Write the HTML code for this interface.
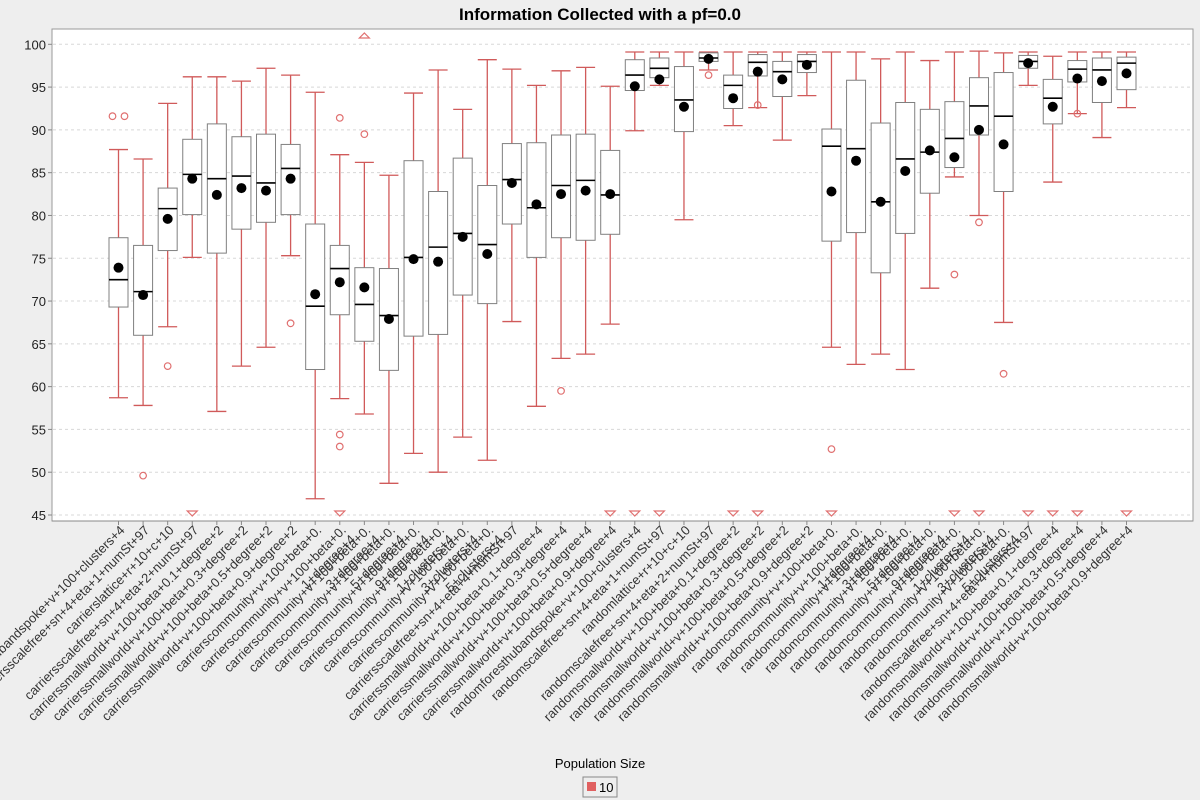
<!DOCTYPE html>
<html><head><meta charset="utf-8"><style>
html,body{margin:0;padding:0;background:#eeeeee;}
svg{display:block;font-family:"Liberation Sans",sans-serif;}
</style></head><body>
<svg id="chart" width="1200" height="800" viewBox="0 0 1200 800" xmlns="http://www.w3.org/2000/svg">
<rect x="0" y="0" width="1200" height="800" fill="#eeeeee"/>
<text x="600" y="20" text-anchor="middle" font-size="17" font-weight="bold" fill="#000">Information Collected with a pf=0.0</text>
<rect x="52" y="29" width="1141" height="492" fill="#ffffff" stroke="#999" stroke-width="1"/>
<g id="grid"></g>
<g id="yaxis"></g>
<g id="xaxis"></g>
<g id="marks"></g>
<text x="600" y="768" text-anchor="middle" font-size="13" fill="#000">Population Size</text>
<g>
<rect x="583" y="777" width="34" height="20" fill="#eeeeee" stroke="#888" stroke-width="1"/>
<rect x="587" y="782" width="9" height="9" fill="#e06060"/>
<text x="599" y="792" font-size="13" fill="#000">10</text>
</g>
</svg>
<script>
const categories = [
"carriershubandspoke+v+100+clusters+4","carriersscalefree+sn+4+eta+1+numSt+97","carrierslattice+r+10+c+10","carriersscalefree+sn+4+eta+2+numSt+97",
"carrierssmallworld+v+100+beta+0.1+degree+2","carrierssmallworld+v+100+beta+0.3+degree+2","carrierssmallworld+v+100+beta+0.5+degree+2","carrierssmallworld+v+100+beta+0.9+degree+2",
"carrierscommunity+v+100+beta+0.|1+degree+4","carrierscommunity+v+100+beta+0.|3+degree+4","carrierscommunity+v+100+beta+0.|5+degree+4","carrierscommunity+v+100+beta+0.|9+degree+4",
"carrierscommunity+v+100+beta+0.|1+clusters+4","carrierscommunity+v+100+beta+0.|3+clusters+4","carrierscommunity+v+100+beta+0.|5+clusters+4",
"carriersscalefree+sn+4+eta+4+numSt+97","carrierssmallworld+v+100+beta+0.1+degree+4","carrierssmallworld+v+100+beta+0.3+degree+4","carrierssmallworld+v+100+beta+0.5+degree+4","carrierssmallworld+v+100+beta+0.9+degree+4",
"randomforesthubandspoke+v+100+clusters+4",
"randomscalefree+sn+4+eta+1+numSt+97","randomlattice+r+10+c+10","randomscalefree+sn+4+eta+2+numSt+97",
"randomsmallworld+v+100+beta+0.1+degree+2","randomsmallworld+v+100+beta+0.3+degree+2","randomsmallworld+v+100+beta+0.5+degree+2","randomsmallworld+v+100+beta+0.9+degree+2",
"randomcommunity+v+100+beta+0.|1+degree+4","randomcommunity+v+100+beta+0.|3+degree+4","randomcommunity+v+100+beta+0.|5+degree+4","randomcommunity+v+100+beta+0.|9+degree+4",
"randomcommunity+v+100+beta+0.|1+clusters+4","randomcommunity+v+100+beta+0.|3+clusters+4","randomcommunity+v+100+beta+0.|5+clusters+4",
"randomscalefree+sn+4+eta+4+numSt+97","randomsmallworld+v+100+beta+0.1+degree+4","randomsmallworld+v+100+beta+0.3+degree+4","randomsmallworld+v+100+beta+0.5+degree+4","randomsmallworld+v+100+beta+0.9+degree+4"
];
// fix count to 42 (insert the carriers community-base label)
categories.splice(8,0,"carrierscommunity+v+100+beta+0.");
categories.splice(29,0,"randomcommunity+v+100+beta+0.");
const whiskerLow = [58.7,57.8,67.0,75.1,57.1,62.4,64.6,75.3,46.9,58.6,56.8,48.7,52.2,50.0,54.1,51.4,67.6,57.7,63.3,63.8,67.3,89.9,95.2,79.5,97.0,90.5,92.6,88.8,94.0,64.6,62.6,63.8,62.0,71.5,84.5,80.0,67.5,95.2,83.9,91.9,89.1,92.6];
const q1 = [69.3,66.0,75.9,80.1,75.6,78.4,79.2,80.1,62.0,68.4,65.3,61.9,65.9,66.1,70.7,69.7,79.0,75.1,77.4,77.1,77.8,94.6,96.1,89.8,98.0,92.5,96.3,93.9,96.7,77.0,78.0,73.3,77.9,82.6,85.6,89.4,82.8,97.2,90.7,95.6,93.2,94.7];
const medians = [72.5,71.1,80.8,84.8,84.3,84.6,83.8,85.5,69.4,73.8,69.6,68.3,75.1,76.3,77.9,76.6,84.2,80.9,83.5,84.1,82.4,96.4,97.2,93.5,98.4,95.2,97.9,96.8,98.0,88.1,87.8,81.6,86.6,87.4,89.0,92.8,91.6,98.0,93.7,97.1,97.0,97.8];
const q3 = [77.4,76.5,83.2,88.9,90.7,89.2,89.5,88.3,79.0,76.5,73.9,73.8,86.4,82.8,86.7,83.5,88.4,88.5,89.4,89.5,87.6,98.2,98.4,97.4,99.0,96.4,98.8,98.0,98.8,90.1,95.8,90.8,93.2,92.4,93.3,96.1,96.7,98.7,95.9,98.1,98.4,98.5];
const whiskerHigh = [87.7,86.6,93.1,96.2,96.2,95.7,97.2,96.4,94.4,87.1,86.2,84.7,94.3,97.0,92.4,98.2,97.1,95.2,96.9,97.3,95.1,99.1,99.1,99.1,99.1,99.1,99.1,99.1,99.1,99.1,99.1,98.3,99.1,98.1,99.1,99.2,99.0,99.1,98.6,99.1,99.1,99.1];
const means = [73.9,70.7,79.6,84.3,82.4,83.2,82.9,84.3,70.8,72.2,71.6,67.9,74.9,74.6,77.5,75.5,83.8,81.3,82.5,82.9,82.5,95.1,95.9,92.7,98.3,93.7,96.8,95.9,97.6,82.8,86.4,81.6,85.2,87.6,86.8,90.0,88.3,97.8,92.7,96.0,95.7,96.6];
const outliers = [[91.6,91.6],[49.6],[62.4],[],[],[],[],[67.4],[],[91.4,54.4,53.0],[89.5],[],[],[],[],[],[],[],[59.5],[],[],[],[],[],[96.4],[],[92.9],[],[],[52.7],[],[],[],[],[73.1],[79.2],[61.5],[],[],[91.9],[],[]];
const farLow = [0,0,0,1,0,0,0,0,0,1,0,0,0,0,0,0,0,0,0,0,1,1,1,0,0,1,1,0,0,1,0,0,0,0,1,1,0,1,1,1,0,1];
const farHigh = [0,0,0,0,0,0,0,0,0,0,1,0,0,0,0,0,0,0,0,0,0,0,0,0,0,0,0,0,0,0,0,0,0,0,0,0,0,0,0,0,0,0];
const yTicks = [45,50,55,60,65,70,75,80,85,90,95,100];

const NS = "http://www.w3.org/2000/svg";
const yMin = 45, yMax = 100, yPxMin = 515, yPxMax = 44.3;
function yScale(v){ return yPxMin + (v - yMin) * (yPxMax - yPxMin) / (yMax - yMin); }
const xLeft = 52, xRight = 1193, marginPx = 66.5;
function xScale(i){ return xLeft + marginPx + i * (xRight - xLeft - 2*marginPx) / (categories.length - 1); }
function mk(tag, attrs, parent){ const e = document.createElementNS(NS, tag); for (const k in attrs) e.setAttribute(k, attrs[k]); parent.appendChild(e); return e; }

const grid = document.getElementById('grid'), yaxis = document.getElementById('yaxis'), xaxis = document.getElementById('xaxis'), marks = document.getElementById('marks');
yTicks.forEach(t => {
  const y = yScale(t);
  const g = mk('line', {x1:53, x2:1192, y1:y, y2:y, stroke:'#d8d8d8', 'stroke-width':1, 'stroke-dasharray':'3,3'}, grid);
  
  
  const tk = mk('line', {x1:48, x2:52, y1:y, y2:y, stroke:'#888'}, yaxis);
  
  
  const lb = mk('text', {x:46, y:y+5, 'text-anchor':'end', 'font-size':13, fill:'#222'}, yaxis);
  lb.textContent = t;
  
  
});
const axl = mk('line', {x1:52, x2:1193, y1:521, y2:521, stroke:'#888'}, xaxis);



const bw = 19;
categories.forEach((name, i) => {
  const x = xScale(i);
  const tk = mk('line', {x1:x, x2:x, y1:521, y2:525, stroke:'#888'}, xaxis);
  
  
  const parts = name.split('|');
  const lx = x + 7, ly = 531;
  parts.forEach((p, k) => {
    const t = mk('text', {x:lx, y:ly, 'text-anchor':'end', 'font-size':13, fill:'#333', dy:(k*13)+'', transform:'rotate(-45 '+lx+' '+ly+')'}, xaxis);
    t.textContent = p;
    
    
  });

  const g = mk('g', {}, marks);
  
  
  const red = '#d05a5a';
  const w1 = mk('line', {x1:x, x2:x, y1:yScale(q3[i]), y2:yScale(whiskerHigh[i]), stroke:red, 'stroke-width':1.3}, g);
  
  
  const w2 = mk('line', {x1:x, x2:x, y1:yScale(q1[i]), y2:yScale(whiskerLow[i]), stroke:red, 'stroke-width':1.3}, g);
  
  
  const c1 = mk('line', {x1:x-bw/2, x2:x+bw/2, y1:yScale(whiskerHigh[i]), y2:yScale(whiskerHigh[i]), stroke:red, 'stroke-width':1.3}, g);
  
  
  const c2 = mk('line', {x1:x-bw/2, x2:x+bw/2, y1:yScale(whiskerLow[i]), y2:yScale(whiskerLow[i]), stroke:red, 'stroke-width':1.3}, g);
  
  
  const r = mk('rect', {x:x-bw/2, y:yScale(q3[i]), width:bw, height:Math.max(1, yScale(q1[i]) - yScale(q3[i])), fill:'#fff', stroke:'#808080', 'stroke-width':1}, g);
  
  
  const m = mk('line', {x1:x-bw/2, x2:x+bw/2, y1:yScale(medians[i]), y2:yScale(medians[i]), stroke:'#000', 'stroke-width':1.6}, g);
  
  
  const mc = mk('circle', {cx:x, cy:yScale(means[i]), r:5, fill:'#000'}, g);
  
  
  const seen = {};
  outliers[i].forEach(v => {
    const key = v.toFixed(1);
    seen[key] = (seen[key] || 0) + 1;
    const dup = outliers[i].filter(u => u.toFixed(1) === key).length;
    const off = dup > 1 ? (seen[key] === 1 ? -6 : 6) : 0;
    const o = mk('circle', {cx:x+off, cy:yScale(v), r:3.3, fill:'none', stroke:'#e07070', 'stroke-width':1.2}, g);
    
    
  });
  if (farLow[i]) {
    const tr = mk('path', {d:'M'+(x-5)+' 511 L'+(x+5)+' 511 L'+x+' 516 Z', fill:'none', stroke:'#e07070', 'stroke-width':1.2}, g);
    
    
  }
  if (farHigh[i]) {
    const tr = mk('path', {d:'M'+(x-5)+' 38 L'+(x+5)+' 38 L'+x+' 33 Z', fill:'none', stroke:'#e07070', 'stroke-width':1.2}, g);
    
    
  }
});
</script>
</body></html>
